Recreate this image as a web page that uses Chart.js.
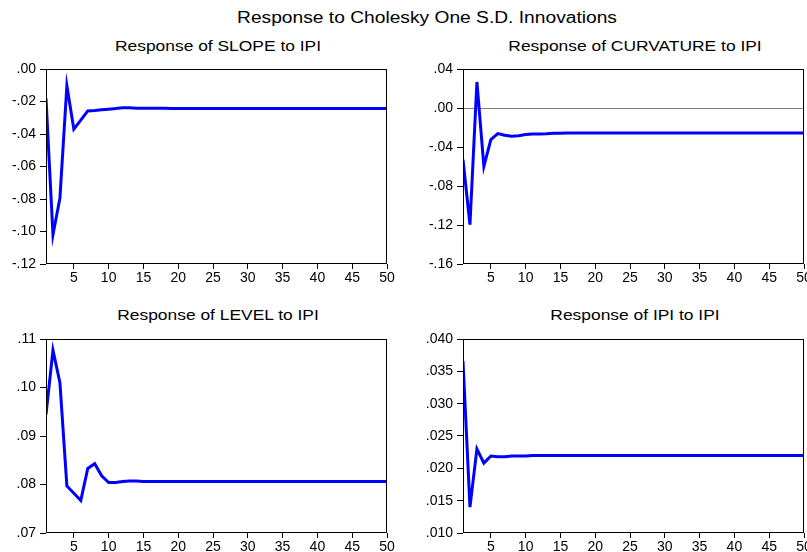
<!DOCTYPE html>
<html>
<head>
<meta charset="utf-8">
<script src="https://cdn.jsdelivr.net/npm/chart.js@4.4.0/dist/chart.umd.min.js"></script>
<style>
  body { margin: 0; background: #fff; width: 807px; height: 552px; overflow: hidden; position: relative; font-family: "Liberation Sans", Arial, sans-serif; }
  .t { position: absolute; white-space: nowrap; color: #000; transform: translate(-50%, -50%) scaleX(1.2); }
  .c { position: absolute; }
</style>
</head>
<body>

<div class="t" style="left:427px;top:18px;font-size:16px">Response to Cholesky One S.D. Innovations</div>
<div class="t" style="left:218px;top:46px;font-size:14.5px">Response of SLOPE to IPI</div>
<div class="t" style="left:635px;top:46px;font-size:14.5px">Response of CURVATURE to IPI</div>
<div class="t" style="left:218px;top:315px;font-size:14.5px">Response of LEVEL to IPI</div>
<div class="t" style="left:635px;top:315px;font-size:14.5px">Response of IPI to IPI</div>

<canvas id="slope" class="c" style="left:0;top:60px" width="395" height="230"></canvas>
<canvas id="curv" class="c" style="left:417px;top:60px" width="390" height="230"></canvas>
<canvas id="level" class="c" style="left:0;top:330px" width="395" height="230"></canvas>
<canvas id="ipi" class="c" style="left:417px;top:330px" width="390" height="230"></canvas>

<script>
// periods after the shock
var steps = [1,2,3,4,5,6,7,8,9,10,11,12,13,14,15,16,17,18,19,20,21,22,23,24,25,
             26,27,28,29,30,31,32,33,34,35,36,37,38,39,40,41,42,43,44,45,46,47,48,49,50]
var xTicks = [5,10,15,20,25,30,35,40,45,50]

var slope = [-0.0180,-0.1020,-0.0795,-0.0103,-0.0370,-0.0315,-0.0258,-0.0255,-0.0251,-0.0247,
             -0.0243,-0.0238,-0.0239,-0.0241,-0.0242,-0.0242,-0.0242,-0.0242,-0.0243,-0.0243,
             -0.0243,-0.0243,-0.0243,-0.0243,-0.0243,-0.0243,-0.0243,-0.0243,-0.0243,-0.0243,
             -0.0243,-0.0243,-0.0243,-0.0243,-0.0243,-0.0243,-0.0243,-0.0243,-0.0243,-0.0243,
             -0.0243,-0.0243,-0.0243,-0.0243,-0.0243,-0.0243,-0.0243,-0.0243,-0.0243,-0.0243]

var curvature = [-0.0529,-0.1196,0.0267,-0.0598,-0.0324,-0.0263,-0.0280,-0.0290,-0.0284,-0.0272,
                 -0.0266,-0.0267,-0.0265,-0.0260,-0.0258,-0.0257,-0.0257,-0.0256,-0.0256,-0.0256,
                 -0.0256,-0.0256,-0.0256,-0.0256,-0.0256,-0.0256,-0.0256,-0.0256,-0.0256,-0.0256,
                 -0.0256,-0.0256,-0.0256,-0.0256,-0.0256,-0.0256,-0.0256,-0.0256,-0.0256,-0.0256,
                 -0.0256,-0.0256,-0.0256,-0.0256,-0.0256,-0.0256,-0.0256,-0.0256,-0.0256,-0.0256]

var level = [0.0944,0.1077,0.1010,0.0797,0.0782,0.0767,0.0833,0.0843,0.0818,0.0804,
             0.0804,0.0806,0.0807,0.0807,0.0806,0.0806,0.0806,0.0806,0.0806,0.0806,
             0.0806,0.0806,0.0806,0.0806,0.0806,0.0806,0.0806,0.0806,0.0806,0.0806,
             0.0806,0.0806,0.0806,0.0806,0.0806,0.0806,0.0806,0.0806,0.0806,0.0806,
             0.0806,0.0806,0.0806,0.0806,0.0806,0.0806,0.0806,0.0806,0.0806,0.0806]

var ipi = [0.0366,0.0140,0.0230,0.0208,0.0219,0.0218,0.0218,0.0219,0.0219,0.0219,
           0.0220,0.0220,0.0220,0.0220,0.0220,0.0220,0.0220,0.0220,0.0220,0.0220,
           0.0220,0.0220,0.0220,0.0220,0.0220,0.0220,0.0220,0.0220,0.0220,0.0220,
           0.0220,0.0220,0.0220,0.0220,0.0220,0.0220,0.0220,0.0220,0.0220,0.0220,
           0.0220,0.0220,0.0220,0.0220,0.0220,0.0220,0.0220,0.0220,0.0220,0.0220]

var tickFont = { family: '"Liberation Sans", Arial, sans-serif', size: 14 }

// box around the plot area, plus the optional zero line
var framePlugin = {
  id: 'frame',
  beforeDatasetsDraw(chart, args, opts) {
    var a = chart.chartArea, ctx = chart.ctx
    if (opts.zero) {
      var y = Math.round(chart.scales.y.getPixelForValue(0)) + 0.5
      ctx.save()
      ctx.strokeStyle = '#808080'
      ctx.lineWidth = 1
      ctx.beginPath()
      ctx.moveTo(a.left, y)
      ctx.lineTo(a.right, y)
      ctx.stroke()
      ctx.restore()
    }
  },
  afterDraw(chart) {
    var a = chart.chartArea, ctx = chart.ctx
    ctx.save()
    ctx.strokeStyle = '#000'
    ctx.lineWidth = 1
    ctx.strokeRect(Math.round(a.left) + 0.5, Math.round(a.top) + 0.5,
                   Math.round(a.right - a.left) - 1, Math.round(a.bottom - a.top) - 1)
    ctx.restore()
  }
}

function fmt(decimals) {
  return function (v) {
    var s = Math.abs(v).toFixed(decimals).replace(/^0/, '')
    return (v < -1e-9 ? '-' : '') + s
  }
}

function makeChart(id, values, yMin, yMax, step, decimals, padRight, xHeight, zero) {
  new Chart(document.getElementById(id), {
    type: 'line',
    data: {
      datasets: [{
        data: steps.map((s, i) => ({ x: s, y: values[i] })),
        borderColor: '#0000ff',
        borderWidth: 3,
        pointRadius: 0,
        tension: 0,
        fill: false
      }]
    },
    options: {
      responsive: false,
      animation: false,
      layout: { padding: { top: 9, right: padRight, left: 0, bottom: 0 } },
      plugins: { legend: { display: false }, tooltip: { enabled: false }, frame: { zero: zero } },
      scales: {
        x: {
          type: 'linear', min: 1, max: 50,
          afterBuildTicks: s => { s.ticks = xTicks.map(v => ({ value: v })) },
          // let the last label run past the edge instead of shrinking the plot
          afterFit: s => { s.height = xHeight; s.paddingLeft = 0; s.paddingRight = 0 },
          grid: { drawOnChartArea: false, drawTicks: true, tickLength: 5, color: '#000' },
          border: { display: false },
          ticks: { color: '#000', font: tickFont, padding: 1, maxRotation: 0 }
        },
        y: {
          min: yMin, max: yMax,
          afterFit: s => { s.width = 46; s.paddingTop = 0; s.paddingBottom = 0 },
          grid: { drawOnChartArea: false, drawTicks: true, tickLength: 6, color: '#000' },
          border: { display: false },
          ticks: { color: '#000', font: tickFont, padding: 4, stepSize: step, callback: fmt(decimals) }
        }
      }
    },
    plugins: [framePlugin]
  })
}

makeChart('slope', slope, -0.12, 0, 0.02, 2, 8, 26, false)
makeChart('curv', curvature, -0.16, 0.04, 0.04, 2, 3, 26, true)
makeChart('level', level, 0.07, 0.11, 0.01, 2, 8, 27, false)
makeChart('ipi', ipi, 0.010, 0.040, 0.005, 3, 3, 27, false)
</script>
</body>
</html>
